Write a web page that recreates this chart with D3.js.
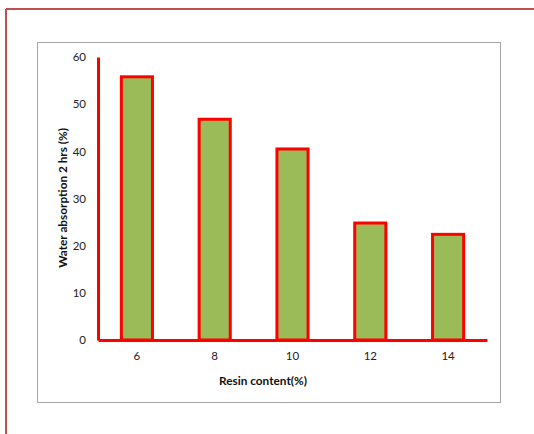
<!DOCTYPE html>
<html><head><meta charset="utf-8">
<script src="https://cdn.jsdelivr.net/npm/d3@7"></script>
<style>body{margin:0;background:#fff}svg{display:block}</style>
</head><body>
<svg id="c" width="534" height="434"></svg>
<script>
const categories = ["6", "8", "10", "12", "14"];
const values = [55.8, 46.8, 40.5, 24.8, 22.4];
const yTicks = [0, 10, 20, 30, 40, 50, 60];
const xTitle = "Resin content(%)";
const yTitle = "Water absorption 2 hrs (%)";

const svg = d3.select("#c");
const font = "Lato, 'Open Sans', sans-serif";

// outer red frame (top and left)
svg.append("line").attr("x1", 6).attr("x2", 534).attr("y1", 9).attr("y2", 9)
  .attr("stroke", "#c0504d").attr("stroke-width", 2);
svg.append("line").attr("x1", 6).attr("x2", 6).attr("y1", 9).attr("y2", 434)
  .attr("stroke", "#c0504d").attr("stroke-width", 2);

// chart box
svg.append("rect").attr("x", 37.5).attr("y", 42.5).attr("width", 463).attr("height", 360)
  .attr("fill", "#fff").attr("stroke", "#a6a6a6").attr("stroke-width", 1);

const x0 = 98, x1 = 487, yTop = 57, yBot = 340;
const x = d3.scaleBand().domain(categories).range([x0, x1]).paddingInner(0.6).paddingOuter(0.3);
const y = d3.scaleLinear().domain([0, 60]).range([yBot, yTop]);

// bars
svg.append("g").selectAll("rect").data(values).join("rect")
  .attr("x", (d, i) => x(categories[i]))
  .attr("y", d => y(d))
  .attr("width", x.bandwidth())
  .attr("height", d => y(0) - y(d))
  .attr("fill", "#9bbb59").attr("stroke", "#ff0000").attr("stroke-width", 3);

// y axis
const ya = svg.append("g").attr("transform", `translate(${x0},0)`)
  .call(d3.axisLeft(y).tickValues(yTicks).tickSize(0).tickPadding(12));
ya.select(".domain").attr("stroke", "#ff0000").attr("stroke-width", 3);
ya.selectAll("text").attr("font-family", font).attr("font-size", 11.5).attr("fill", "#222");

// x axis
const xa = svg.append("g").attr("transform", `translate(0,${yBot})`)
  .call(d3.axisBottom(x).tickSize(0).tickPadding(12));
xa.select(".domain").attr("stroke", "#ff0000").attr("stroke-width", 3);
xa.selectAll("text").attr("font-family", font).attr("font-size", 11.5).attr("fill", "#222");

// titles
svg.append("text").attr("x", 263).attr("y", 385).attr("text-anchor", "middle")
  .attr("font-family", font).attr("font-size", 11.8).attr("font-weight", "bold").attr("fill", "#111")
  .text(xTitle);
svg.append("text").attr("transform", "translate(66.5,198) rotate(-90)").attr("text-anchor", "middle")
  .attr("font-family", font).attr("font-size", 11.8).attr("font-weight", "bold").attr("fill", "#111")
  .text(yTitle);
</script>
</body></html>
